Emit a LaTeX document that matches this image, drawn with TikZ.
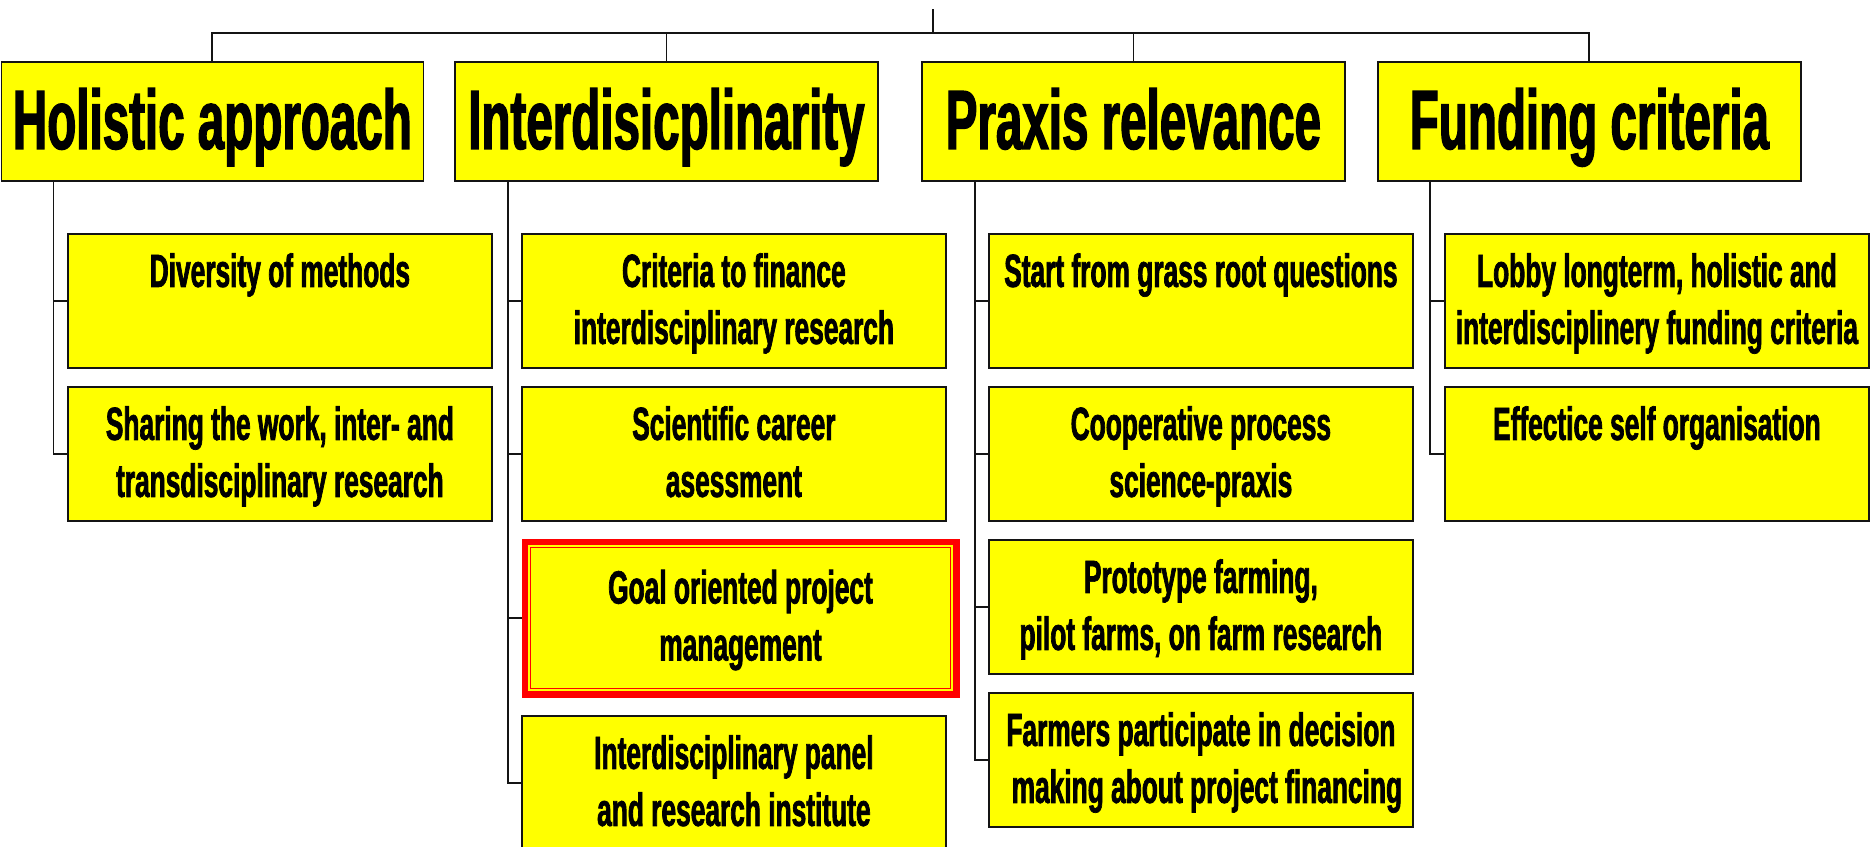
\documentclass[tikz,border=0pt]{standalone}
\usepackage{fontspec}
\usetikzlibrary{backgrounds}
\newfontfamily\nb{Liberation Sans}[FakeStretch=0.566, FakeBold=1.5]
\definecolor{boxyellow}{RGB}{255,255,0}
\definecolor{boxred}{RGB}{255,0,0}
\definecolor{edge}{RGB}{20,20,20}
\newlength\pxu \setlength\pxu{0.5pt}
\newcommand\boxtext[4]{\parbox[c][#1\pxu][t]{#2\pxu}{\centering\rule{0pt}{#3\pxu}#4\par}}
\tikzset{
  lvl1/.style={draw=edge, line width=0.9pt, fill=boxyellow, inner sep=0pt, anchor=north west,
    font=\nb\bfseries\fontsize{42}{50}\selectfont},
  lvl2/.style={draw=edge, line width=0.9pt, fill=boxyellow, inner sep=0pt, anchor=north west,
    font=\nb\bfseries\fontsize{23.25}{28.5}\selectfont},
  conn/.style={draw=edge, line width=0.7pt},
  topline/.style={draw=edge, line width=1pt},
  hilite/.style={draw=boxred, line width=1\pxu,
    preaction={draw=boxred, line width=18\pxu},
    preaction={draw=boxyellow, line width=5\pxu}}
}
\begin{document}
\begin{tikzpicture}[x=0.5pt,y=-0.5pt]
\useasboundingbox (0,0) rectangle (1873,846);
% level 1
\node[lvl1] (H) at (0.5,61) {\boxtext{119}{422}{87}{Holistic approach}};
\node[lvl1] (I) at (454,61) {\boxtext{119}{423}{87}{Interdisicplinarity}};
\node[lvl1] (P) at (921,61) {\boxtext{119}{423}{87}{Praxis relevance}};
\node[lvl1] (F) at (1377,61) {\boxtext{119}{423}{87}{Funding criteria}};
% Holistic
\node[lvl2] (h1) at (67,233) {\boxtext{134}{424}{53}{Diversity of methods}};
\node[lvl2] (h2) at (67,386) {\boxtext{134}{424}{53}{Sharing the work, inter- and\\transdisciplinary research}};
% Interdisciplinarity
\node[lvl2] (i1) at (521,233) {\boxtext{134}{424}{53}{Criteria to finance\\interdisciplinary research}};
\node[lvl2] (i2) at (521,386) {\boxtext{134}{424}{53}{Scientific career\\asessment}};
\node[lvl2, hilite] (i3) at (530,547) {\boxtext{141}{420}{56}{Goal oriented project\\management}};
\node[lvl2] (i4) at (521,715) {\boxtext{134}{424}{53}{Interdisciplinary panel\\and research institute}};
% Praxis
\node[lvl2] (p1) at (988,233) {\boxtext{134}{424}{53}{Start from grass root questions}};
\node[lvl2] (p2) at (988,386) {\boxtext{134}{424}{53}{Cooperative process\\science-praxis}};
\node[lvl2] (p3) at (988,539) {\boxtext{134}{424}{53}{Prototype farming,\\pilot farms, on farm research}};
\node[lvl2] (p4) at (988,692) {\boxtext{134}{424}{53}{Farmers participate in decision\\\hspace*{12\pxu}making about project financing}};
% Funding
\node[lvl2] (f1) at (1444,233) {\boxtext{134}{424}{53}{Lobby longterm, holistic and\\interdisciplinery funding criteria}};
\node[lvl2] (f2) at (1444,386) {\boxtext{134}{424}{53}{Effectice self organisation}};
\coordinate (root) at (933,9);
\coordinate (bar) at (933,33);
\coordinate (hl) at ([xshift=53\pxu]H.south west);
\coordinate (il) at ([xshift=54\pxu]I.south west);
\coordinate (pl) at ([xshift=54\pxu]P.south west);
\coordinate (fl) at ([xshift=53\pxu]F.south west);
\begin{pgfonlayer}{background}
\fill[white] (0,0) rectangle (1873,846);
\draw[topline] (root) -- (bar);
\draw[topline] (H.north) |- (bar) -| (F.north);
\draw[conn] (I.north) -- (I.north |- bar);
\draw[conn] (P.north) -- (P.north |- bar);
\draw[conn] (hl) |- (h2.west);
\draw[conn] (h1.west) -- (h1.west -| hl);
\draw[conn] (il) |- (i4.west);
\draw[conn] (i1.west) -- (i1.west -| il);
\draw[conn] (i2.west) -- (i2.west -| il);
\draw[conn] (i3.west) -- (i3.west -| il);
\draw[conn] (pl) |- (p4.west);
\draw[conn] (p1.west) -- (p1.west -| pl);
\draw[conn] (p2.west) -- (p2.west -| pl);
\draw[conn] (p3.west) -- (p3.west -| pl);
\draw[conn] (fl) |- (f2.west);
\draw[conn] (f1.west) -- (f1.west -| fl);
\end{pgfonlayer}
\end{tikzpicture}
\end{document}
